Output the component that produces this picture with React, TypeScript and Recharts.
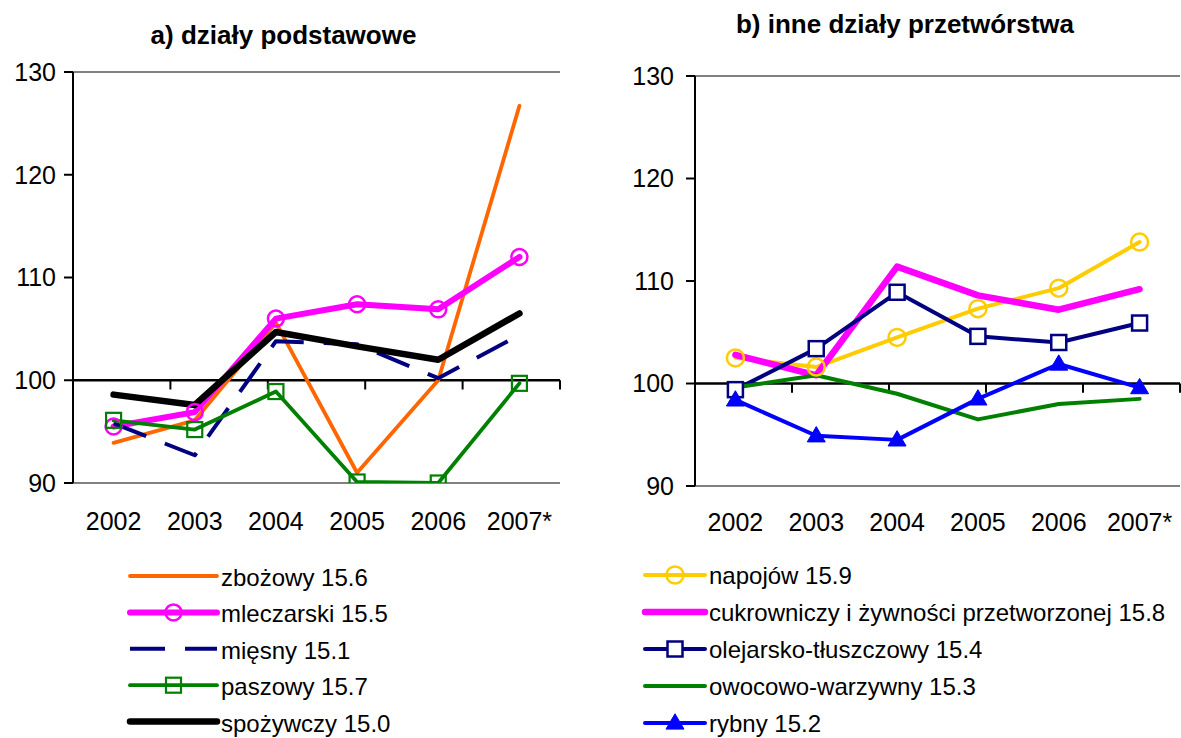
import React from 'react';
import { LineChart, Line, XAxis, YAxis, ReferenceLine } from 'recharts';

const FONT = '"Liberation Sans", Arial, Helvetica, sans-serif';

// ---------- data ----------
const years = ['2002', '2003', '2004', '2005', '2006', '2007*'];
const yTicks = [90, 100, 110, 120, 130];
const boundaryTicks = [1, 2, 3, 4, 5, 6];

// a) działy podstawowe
const zbozowy = [93.9, 96.1, 105.6, 91.0, 100.0, 126.7];
const mleczarski = [95.5, 96.9, 106.0, 107.4, 106.9, 112.0];
const miesny = [95.8, 92.7, 103.8, 103.5, 100.2, 104.4];
const paszowy = [96.1, 95.2, 98.9, 90.1, 90.0, 99.7];
const spozywczy = [98.6, 97.6, 104.7, 103.3, 102.0, 106.5];

// b) inne działy przetwórstwa
const napojow = [102.5, 101.6, 104.5, 107.3, 109.3, 113.8];
const cukrowniczy = [102.8, 100.8, 111.4, 108.6, 107.2, 109.2];
const olejarsko = [99.4, 103.4, 108.9, 104.6, 104.0, 105.9];
const owocowo = [99.6, 100.8, 99.0, 96.5, 98.0, 98.5];
const rybny = [98.4, 94.9, 94.5, 98.5, 101.9, 99.6];

const leftLabels = ['zbożowy 15.6', 'mleczarski 15.5', 'mięsny 15.1', 'paszowy 15.7', 'spożywczy 15.0'];
const rightLabels = [
  'napojów 15.9',
  'cukrowniczy i żywności przetworzonej 15.8',
  'olejarsko-tłuszczowy 15.4',
  'owocowo-warzywny 15.3',
  'rybny 15.2',
];

const leftData = years.map((year, i) => ({
  year,
  zbozowy: zbozowy[i],
  mleczarski: mleczarski[i],
  miesny: miesny[i],
  paszowy: paszowy[i],
  spozywczy: spozywczy[i],
}));

const rightData = years.map((year, i) => ({
  year,
  napojow: napojow[i],
  cukrowniczy: cukrowniczy[i],
  olejarsko: olejarsko[i],
  owocowo: owocowo[i],
  rybny: rybny[i],
}));

// ---------- styles ----------
type Marker = { kind: 'circle' | 'square' | 'triangle'; size: number; fill: string; sw: number } | null;
type SeriesStyle = { key: string; label: string; color: string; width: number; dash?: string; marker: Marker };

const leftSeries: SeriesStyle[] = [
  { key: 'zbozowy', label: leftLabels[0], color: '#FF6600', width: 3.8, marker: null },
  { key: 'mleczarski', label: leftLabels[1], color: '#FF00FF', width: 6, marker: { kind: 'circle', size: 8, fill: 'none', sw: 2.5 } },
  { key: 'miesny', label: leftLabels[2], color: '#000080', width: 4, dash: '35 20', marker: null },
  { key: 'paszowy', label: leftLabels[3], color: '#008000', width: 3.8, marker: { kind: 'square', size: 15, fill: 'none', sw: 2.2 } },
  { key: 'spozywczy', label: leftLabels[4], color: '#000000', width: 6.5, marker: null },
];

const rightSeries: SeriesStyle[] = [
  { key: 'napojow', label: rightLabels[0], color: '#FFCC00', width: 4, marker: { kind: 'circle', size: 8.5, fill: 'none', sw: 2.5 } },
  { key: 'cukrowniczy', label: rightLabels[1], color: '#FF00FF', width: 6.5, marker: null },
  { key: 'olejarsko', label: rightLabels[2], color: '#000080', width: 4, marker: { kind: 'square', size: 15, fill: '#FFFFFF', sw: 2.5 } },
  { key: 'owocowo', label: rightLabels[3], color: '#008000', width: 4, marker: null },
  { key: 'rybny', label: rightLabels[4], color: '#0000FF', width: 4, marker: { kind: 'triangle', size: 18, fill: '#0000FF', sw: 1 } },
];

function markerShape(m: Marker, color: string, cx: number, cy: number, key?: string) {
  if (!m) return null;
  if (m.kind === 'circle') {
    return <circle key={key} cx={cx} cy={cy} r={m.size} fill={m.fill} stroke={color} strokeWidth={m.sw} />;
  }
  if (m.kind === 'square') {
    const h = m.size / 2;
    return <rect key={key} x={cx - h} y={cy - h} width={m.size} height={m.size} fill={m.fill} stroke={color} strokeWidth={m.sw} />;
  }
  const w = m.size;
  const hh = m.size * 0.85;
  const pts = `${cx},${cy - hh * 0.6} ${cx - w / 2},${cy + hh * 0.4} ${cx + w / 2},${cy + hh * 0.4}`;
  return <polygon key={key} points={pts} fill={m.fill} stroke={color} strokeWidth={m.sw} strokeLinejoin="round" />;
}

function makeDot(s: SeriesStyle) {
  if (!s.marker) return false;
  return (props: any) => {
    const { cx, cy, index } = props;
    if (cx == null || cy == null) return <g key={`${s.key}-e-${index}`} />;
    return markerShape(s.marker, s.color, cx, cy, `${s.key}-d-${index}`);
  };
}

const axisTick = { fontSize: 25, fill: '#000', fontFamily: FONT };

function Panel({
  data,
  series,
  width,
  marginTop,
  marginBottom,
  marginRight,
  yWidth,
  yTickMargin,
  xTickMargin,
}: {
  data: any[];
  series: SeriesStyle[];
  width: number;
  marginTop: number;
  marginBottom: number;
  marginRight: number;
  yWidth: number;
  yTickMargin: number;
  xTickMargin: number;
}) {
  return (
    <LineChart
      width={width}
      height={560}
      data={data}
      margin={{ top: marginTop, right: marginRight, bottom: marginBottom, left: 0 }}
    >
      <XAxis
        xAxisId="cat"
        dataKey="year"
        scale="band"
        interval={0}
        height={60}
        axisLine={false}
        tickLine={false}
        tickSize={0}
        tickMargin={xTickMargin}
        tick={axisTick}
      />
      <XAxis xAxisId="num" type="number" domain={[0, 6]} hide height={0} />
      <YAxis
        yAxisId="y"
        domain={[90, 130]}
        ticks={yTicks}
        width={yWidth}
        tickSize={9}
        tickMargin={yTickMargin}
        axisLine={{ stroke: '#000', strokeWidth: 2 }}
        tickLine={{ stroke: '#000', strokeWidth: 2 }}
        tick={axisTick}
        allowDataOverflow
      />
      <ReferenceLine xAxisId="num" yAxisId="y" y={130} stroke="#808080" strokeWidth={2} />
      <ReferenceLine xAxisId="num" yAxisId="y" y={90} stroke="#808080" strokeWidth={2} />
      <ReferenceLine xAxisId="num" yAxisId="y" x={6} stroke="#808080" strokeWidth={2} />
      <ReferenceLine xAxisId="num" yAxisId="y" y={100} stroke="#000" strokeWidth={2.5} />
      {boundaryTicks.map((b) => (
        <ReferenceLine
          key={`bt-${b}`}
          xAxisId="num"
          yAxisId="y"
          segment={[
            { x: b, y: 100 },
            { x: b, y: 99.1 },
          ]}
          stroke="#000"
          strokeWidth={2}
        />
      ))}
      {series.map((s) => (
        <Line
          key={s.key}
          xAxisId="cat"
          yAxisId="y"
          type="linear"
          dataKey={s.key}
          stroke={s.color}
          strokeWidth={s.width}
          strokeDasharray={s.dash}
          strokeLinecap={s.dash ? 'butt' : 'round'}
          strokeLinejoin="round"
          dot={makeDot(s)}
          activeDot={false}
          isAnimationActive={false}
        />
      ))}
    </LineChart>
  );
}

function LegendSvg({
  series,
  x1,
  x2,
  textX,
  firstY,
  step,
  textDy,
}: {
  series: SeriesStyle[];
  x1: number;
  x2: number;
  textX: number;
  firstY: number;
  step: number;
  textDy: number;
}) {
  return (
    <g>
      {series.map((s, i) => {
        const y = firstY + i * step;
        return (
          <g key={s.key}>
            <line
              x1={x1}
              x2={x2}
              y1={y}
              y2={y}
              stroke={s.color}
              strokeWidth={s.width}
              strokeDasharray={s.dash}
              strokeLinecap={s.dash ? 'butt' : 'round'}
            />
            {markerShape(s.marker, s.color, (x1 + x2) / 2, y)}
            <text x={textX} y={y + textDy} fontSize={24} fontFamily={FONT} fill="#000">
              {s.label}
            </text>
          </g>
        );
      })}
    </g>
  );
}

export default function App() {
  return (
    <div style={{ position: 'absolute', left: 0, top: 0, width: 1181, height: 738, background: '#fff', overflow: 'hidden' }}>
      <div style={{ position: 'absolute', left: 0, top: 0 }}>
        <Panel
          data={leftData}
          series={leftSeries}
          width={600}
          marginTop={72}
          marginBottom={17}
          marginRight={40}
          yWidth={73}
          yTickMargin={8}
          xTickMargin={29}
        />
      </div>
      <div style={{ position: 'absolute', left: 600, top: 0 }}>
        <Panel
          data={rightData}
          series={rightSeries}
          width={581}
          marginTop={76}
          marginBottom={14}
          marginRight={1}
          yWidth={95}
          yTickMargin={12}
          xTickMargin={27}
        />
      </div>
      <svg width={1181} height={738} style={{ position: 'absolute', left: 0, top: 0, pointerEvents: 'none' }}>
        <text x={283.5} y={44} textAnchor="middle" fontSize={26} fontWeight="bold" fontFamily={FONT} fill="#000">
          a) działy podstawowe
        </text>
        <text x={905} y={33} textAnchor="middle" fontSize={26} fontWeight="bold" fontFamily={FONT} fill="#000">
          b) inne działy przetwórstwa
        </text>
        <LegendSvg series={leftSeries} x1={130} x2={217} textX={221} firstY={576} step={36.4} textDy={10} />
        <LegendSvg series={rightSeries} x1={645} x2={705} textX={709} firstY={575} step={37} textDy={9} />
      </svg>
    </div>
  );
}
